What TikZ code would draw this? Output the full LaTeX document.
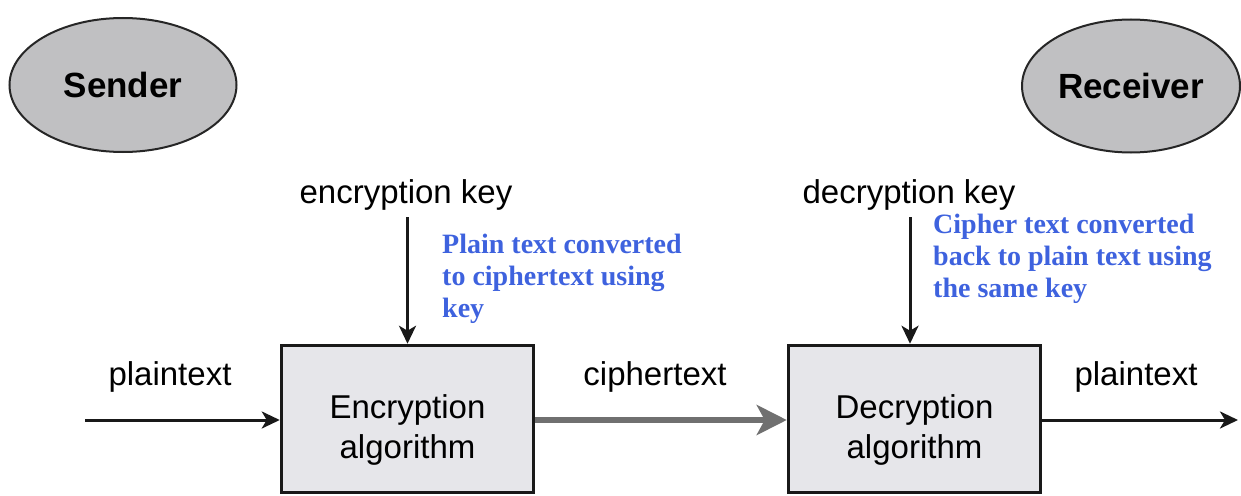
\documentclass[tikz,border=0pt]{standalone}
\usepackage{fontspec}
\setmainfont{Liberation Sans}
\newfontfamily\serifb{Liberation Serif}
\usetikzlibrary{arrows.meta,shapes.geometric}
\definecolor{noteblue}{RGB}{62,98,222}
\definecolor{boxfill}{RGB}{230,230,234}
\definecolor{ellfill}{RGB}{192,192,194}
\definecolor{ciphgray}{RGB}{112,112,112}
\tikzset{
  party/.style={ellipse, draw=black!85, line width=2pt, fill=ellfill, inner sep=0pt,
    font=\fontsize{35}{40}\selectfont\bfseries},
  algbox/.style={rectangle, draw=black!90, line width=3.5pt, fill=boxfill,
    minimum width=252pt, minimum height=147pt, inner sep=0pt},
  algtxt/.style={align=center, inner sep=0pt, font=\fontsize{33}{40}\selectfont},
  lbl/.style={anchor=base, inner sep=0pt, font=\fontsize{33}{40}\selectfont},
  note/.style={anchor=base west, align=left, inner sep=0pt, text=noteblue,
    font=\serifb\bfseries\fontsize{28}{32}\selectfont},
  arr/.style={line width=3pt, draw=black!90,
    -{Stealth[length=18pt,width=17pt,inset=5pt]}},
  garr/.style={line width=6.5pt, draw=ciphgray,
    -{Stealth[length=30pt,width=30pt,inset=8pt]}}
}
\begin{document}
\begin{tikzpicture}[x=1pt,y=-1pt]
\useasboundingbox (0,0) rectangle (1241,495);
% parties
\node[party, minimum width=227pt, minimum height=134pt] (sender) at (123,85) {Sender};
\node[party, minimum width=218pt, minimum height=133pt] (receiver) at (1131,86) {Receiver};
% algorithm boxes
\node[algbox] (enc) at (407.5,419) {};
\node[algtxt] (enctxt) at (407.5,430) {Encryption\\algorithm};
\node[algbox] (dec) at (914.5,419) {};
\node[algtxt] (dectxt) at (914.5,430) {Decryption\\algorithm};
% labels
\node[lbl] (enckey) at (406,203) {encryption key};
\node[lbl] (deckey) at (909,203) {decryption key};
\node[lbl] (ptin) at (170,385) {plaintext};
\node[lbl] (ctlbl) at (655,385) {ciphertext};
\node[lbl] (ptout) at (1136,385) {plaintext};
% blue notes (anchor = baseline of last line)
\node[note] (encnote) at (442,317) {Plain text converted\\to ciphertext using\\key};
\node[note] (decnote) at (933,297) {Cipher text converted\\back to plain text using\\the same key};
% connectors
\coordinate (inpt) at (85,420);
\coordinate (outpt) at (1238,420);
\coordinate (enctop) at (407.5,217);
\coordinate (dectop) at (910,217);
\draw[arr] (inpt) -- (enc.west |- inpt);
\draw[arr] (enctop) -- (enctop |- enc.north);
\draw[arr] (dectop) -- (dectop |- dec.north);
\draw[garr] (enc.east |- inpt) -- (dec.west |- inpt);
\draw[arr] (dec.east |- outpt) -- (outpt);
\end{tikzpicture}
\end{document}
